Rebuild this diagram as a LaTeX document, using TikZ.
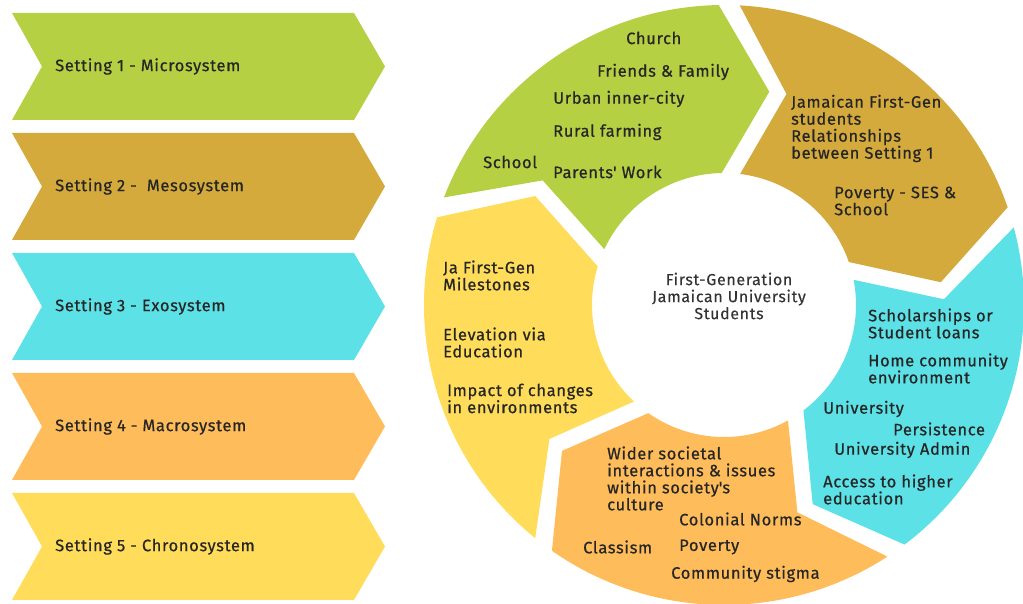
\documentclass[tikz,border=0pt]{standalone}
\usepackage{fontspec}
\setmainfont{Fira Sans}[LetterSpace=4, FakeBold=0.6]
\newfontfamily\hubfont{Fira Sans}[LetterSpace=4, FakeBold=0.2]
\definecolor{microgreen}{RGB}{181,209,67}
\definecolor{mesogold}{RGB}{212,170,60}
\definecolor{exocyan}{RGB}{92,225,230}
\definecolor{macroorange}{RGB}{254,188,90}
\definecolor{chronoyellow}{RGB}{255,220,89}

\begin{document}
\begin{tikzpicture}[x=1pt, y=1pt,
    every node/.style={inner sep=0pt, text=black!85, font=\fontsize{16.5}{17}\selectfont},
    item/.style={anchor=west, align=left}]
    \useasboundingbox (0,0) rectangle (1023,604);

    % settings on the left
    \fill[microgreen]   (12,591) -- ++(342,0) -- ++(31,-53.5) -- ++(-31,-53.5) -- ++(-342,0) -- ++(30,53.5) -- cycle;
    \fill[mesogold]     (12,471) -- ++(342,0) -- ++(31,-53.5) -- ++(-31,-53.5) -- ++(-342,0) -- ++(30,53.5) -- cycle;
    \fill[exocyan]      (12,351) -- ++(342,0) -- ++(31,-53.5) -- ++(-31,-53.5) -- ++(-342,0) -- ++(30,53.5) -- cycle;
    \fill[macroorange]  (12,231) -- ++(342,0) -- ++(31,-53.5) -- ++(-31,-53.5) -- ++(-342,0) -- ++(30,53.5) -- cycle;
    \fill[chronoyellow] (12,111) -- ++(342,0) -- ++(31,-53.5) -- ++(-31,-53.5) -- ++(-342,0) -- ++(30,53.5) -- cycle;

    \node[item] (s1) at (55,537.5) {Setting 1 - Microsystem};
    \node[item] (s2) at (55,417.5) {Setting 2 -\ \ Mesosystem};
    \node[item] (s3) at (55,297.5) {Setting 3 - Exosystem};
    \node[item] (s4) at (55,177.5) {Setting 4 - Macrosystem};
    \node[item] (s5) at (55,57.5)  {Setting 5 - Chronosystem};

    % ring of settings around the students
    \begin{scope}[shift={(724,299)}]
        \fill[microgreen]   (159:300) arc[start angle=159, end angle=91, radius=300] -- (78:218)
            -- (91:132) arc[start angle=91, end angle=155, radius=132] -- (145.5:220) -- cycle;
        \fill[mesogold]     (87:300) arc[start angle=87, end angle=19, radius=300] -- (6:218)
            -- (19:132) arc[start angle=19, end angle=83, radius=132] -- (73.5:220) -- cycle;
        \fill[exocyan]      (15:300) arc[start angle=15, end angle=-53, radius=300] -- (-66:218)
            -- (-53:132) arc[start angle=-53, end angle=11, radius=132] -- (1.5:220) -- cycle;
        \fill[macroorange]  (-57:300) arc[start angle=-57, end angle=-125, radius=300] -- (-138:218)
            -- (-125:132) arc[start angle=-125, end angle=-61, radius=132] -- (-70.5:220) -- cycle;
        \fill[chronoyellow] (-129:300) arc[start angle=-129, end angle=-197, radius=300] -- (-210:218)
            -- (-197:132) arc[start angle=-197, end angle=-133, radius=132] -- (-142.5:220) -- cycle;
    \end{scope}

    \node[align=center, text=black!80, font=\hubfont\fontsize{16}{17}\selectfont] (students) at (729,308)
        {First-Generation\\Jamaican University\\Students};

    % microsystem
    \node[item] (church)  at (626,566) {Church};
    \node[item] (friends) at (597,532) {Friends \& Family};
    \node[item] (urban)   at (553,505) {Urban inner-city};
    \node[item] (rural)   at (553,472) {Rural farming};
    \node[item] (school)  at (483,442) {School};
    \node[item] (parents) at (553,432) {Parents\textquotesingle{} Work};

    % mesosystem
    \node[item] (relations) at (791,475.5) {Jamaican First-Gen\\students\\Relationships\\between Setting 1};
    \node[item] (ses)       at (834,403)   {Poverty - SES \&\\School};

    % exosystem
    \node[item] (loans)       at (868,280.5) {Scholarships or\\Student loans};
    \node[item] (home)        at (868,235.5) {Home community\\environment};
    \node[item] (university)  at (823,195)   {University};
    \node[item] (persistence) at (893,175)   {Persistence};
    \node[item] (admin)       at (834,154)   {University Admin};
    \node[item] (access)      at (823,114.5) {Access to higher\\education};

    % macrosystem
    \node[item] (wider)    at (607,125.5) {Wider societal\\interactions \& issues\\within society\textquotesingle s\\culture};
    \node[item] (colonial) at (679,85) {Colonial Norms};
    \node[item] (classism) at (583,57) {Classism};
    \node[item] (poverty)  at (679,57) {Poverty};
    \node[item] (stigma)   at (671,30) {Community stigma};

    % chronosystem
    \node[item] (milestones) at (443,328.5) {Ja First-Gen\\Milestones};
    \node[item] (elevation)  at (443,261.5) {Elevation via\\Education};
    \node[item] (impact)     at (447,205.5) {Impact of changes\\in environments};
\end{tikzpicture}
\end{document}
